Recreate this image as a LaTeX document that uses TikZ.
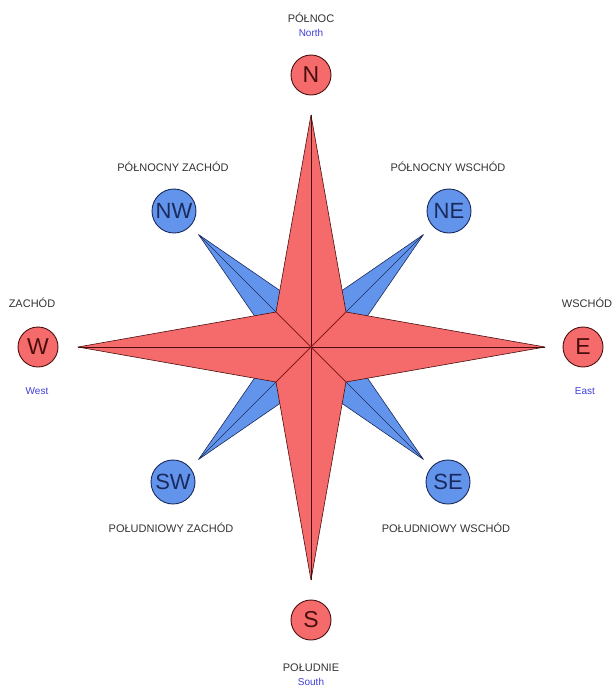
\documentclass[tikz,border=0pt]{standalone}
\usepackage{fontspec}
\setmainfont{Liberation Sans}
\usetikzlibrary{calc}
\definecolor{rosered}{HTML}{F56B6B}
\definecolor{roseblue}{HTML}{6394EC}
\definecolor{redline}{HTML}{4A0E0E}
\definecolor{diagline}{HTML}{8A1C1C}
\definecolor{blueline}{HTML}{1A2A5C}
\definecolor{labelgray}{HTML}{333333}
\definecolor{englishblue}{HTML}{3F3FD6}
\begin{document}
\begin{tikzpicture}[x=1pt,y=-1pt,
  redpt/.style={circle,draw=redline,line width=0.9pt,fill=rosered,minimum size=40pt,inner sep=0pt,
    font=\fontsize{23}{23}\selectfont,text=redline},
  bluept/.style={circle,draw=blueline,line width=0.9pt,fill=roseblue,minimum size=44pt,inner sep=0pt,
    font=\fontsize{22}{22}\selectfont,text=blueline},
  lbl/.style={font=\fontsize{11}{11}\selectfont,text=labelgray,inner sep=0pt},
  eng/.style={font=\fontsize{10}{10}\selectfont,text=englishblue,inner sep=0pt},
  bluearm/.style={draw=blueline,fill=roseblue,line width=0.6pt,line join=round},
  redstar/.style={draw=redline,fill=rosered,line width=0.6pt,line join=round},
  redaxis/.style={draw=redline,line width=0.8pt},
  reddiag/.style={draw=diagline,line width=0.8pt},
  blueaxis/.style={draw=blueline,line width=0.6pt}]
\useasboundingbox (0,0) rectangle (612,689);
\coordinate (C) at (311,347);
% red tips and inner vertices
\coordinate (tN) at (311,115);
\coordinate (tS) at (311,580);
\coordinate (tW) at (78,347);
\coordinate (tE) at (545,347);
\coordinate (iNE) at (346,312);
\coordinate (iNW) at (276,312);
\coordinate (iSE) at (346,382);
\coordinate (iSW) at (276,382);
% blue arms
\foreach \a in {45,135,225,315}{
  \begin{scope}[shift={(C)},rotate=\a]
    \coordinate (bt) at (159,0);
    \coordinate (bs1) at (40,22);
    \coordinate (bs2) at (40,-22);
    \coordinate (bc) at (0,0);
    \path[bluearm] (bc) -- (bs1) -- (bt) -- (bs2) -- cycle;
    \draw[blueaxis] (bc) -- (bt);
  \end{scope}
}
% red star
\path[redstar] (tN) -- (iNE) -- (tE) -- (iSE) -- (tS) -- (iSW) -- (tW) -- (iNW) -- cycle;
\draw[redaxis] (tN) -- (tS);
\draw[redaxis] (tW) -- (tE);
\draw[reddiag] (iNE) -- (iSW);
\draw[reddiag] (iNW) -- (iSE);
% circles
\node[redpt] (N) at (311,75) {N};
\node[redpt] (S) at (311,620) {S};
\node[redpt] (W) at (38,347) {W};
\node[redpt] (E) at (583,347) {E};
\node[bluept] (NW) at (174,211) {NW};
\node[bluept] (NE) at (449,211) {NE};
\node[bluept] (SW) at (173,482) {SW};
\node[bluept] (SE) at (448,482) {SE};
% labels
\node[lbl] (lN) at (311,18) {PÓŁNOC};
\node[eng] (eN) at (311,33) {North};
\node[lbl] (lNW) at (173,167) {PÓŁNOCNY ZACHÓD};
\node[lbl] (lNE) at (448,167) {PÓŁNOCNY WSCHÓD};
\node[lbl] (lW) at (32,303) {ZACHÓD};
\node[eng] (eW) at (37,391) {West};
\node[lbl] (lE) at (587,303) {WSCHÓD};
\node[eng] (eE) at (585,391) {East};
\node[lbl] (lSW) at (171,528) {POŁUDNIOWY ZACHÓD};
\node[lbl] (lSE) at (446,528) {POŁUDNIOWY WSCHÓD};
\node[lbl] (lS) at (311,668) {POŁUDNIE};
\node[eng] (eS) at (311,682) {South};
\end{tikzpicture}
\end{document}
